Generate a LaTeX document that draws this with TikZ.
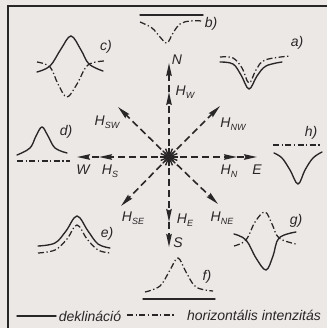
\documentclass[tikz,border=0pt]{standalone}
\usepackage{fontspec}
\setmainfont{Liberation Sans}
\usetikzlibrary{arrows.meta}
\definecolor{bg}{RGB}{236,232,230}
\definecolor{ink}{RGB}{40,38,38}
\tikzset{
 vec/.style={draw=ink, line width=1.6pt, dash pattern=on 7pt off 4pt, -{Stealth[length=13pt,width=5.5pt,inset=1.5pt]}},
 decl/.style={draw=ink, line width=1.35pt, line cap=round},
 hint/.style={draw=ink, line width=1.25pt, dash pattern=on 6pt off 2.5pt on 1.3pt off 2.5pt},
 lbl/.style={text=ink, font=\fontsize{14}{14}\selectfont\itshape, inner sep=0pt},
 curvelbl/.style={text=ink, font=\fontsize{14}{14}\selectfont\itshape, inner sep=0pt},
 leg/.style={text=ink, font=\fontsize{14}{14}\selectfont\itshape, inner sep=0pt},
}
\newcommand{\Hsub}[1]{H\kern0.3pt\raisebox{-3pt}{\fontsize{9}{9}\selectfont #1}}
\begin{document}
\begin{tikzpicture}[x=1pt,y=-1pt]
\fill[bg] (0,0) rectangle (327,328);
\useasboundingbox (0,0) rectangle (327,328);
% frame
\coordinate (f1) at (8,328); \coordinate (f2) at (8,6); \coordinate (f3) at (327,6);
\draw[ink, line width=1.5pt] (f1) -- (f2) -- (f3);
% vectors
\coordinate (O) at (169,157);
\coordinate (hw) at (169,92); \coordinate (n) at (169,63);
\coordinate (hn) at (237,157); \coordinate (e) at (257,157);
\coordinate (he) at (169,222); \coordinate (s) at (169,247);
\coordinate (hs) at (99,157); \coordinate (w) at (77,157);
\coordinate (hsw) at (118,107); \coordinate (hnw) at (220,106);
\coordinate (hne) at (218,204); \coordinate (hse) at (121,206);
\draw[vec] (O) -- (hw); \draw[vec] (hw) -- (n);
\draw[vec] (O) -- (hn); \draw[vec] (hn) -- (e);
\draw[vec] (O) -- (he); \draw[vec] (he) -- (s);
\draw[vec] (O) -- (hs); \draw[vec] (hs) -- (w);
\draw[vec] (O) -- (hsw); \draw[vec] (O) -- (hnw);
\draw[vec] (O) -- (hne); \draw[vec] (O) -- (hse);
\foreach \a in {0,22.5,...,337.5} \draw[ink,line width=1.4pt] (O) -- ++(\a:9);
\fill[ink] (O) circle (2);
% vector labels
\node[lbl] (lN) at (177,60) {N};
\node[lbl] (lHW) at (185,92) {\Hsub{W}};
\node[lbl] (lHNW) at (233,124) {\Hsub{NW}};
\node[lbl] (lHN) at (229,171) {\Hsub{N}};
\node[lbl] (lE) at (257,170) {E};
\node[lbl] (lHE) at (185,220) {\Hsub{E}};
\node[lbl] (lS) at (178,243) {S};
\node[lbl] (lHNE) at (222,218) {\Hsub{NE}};
\node[lbl] (lHSE) at (133,218) {\Hsub{SE}};
\node[lbl] (lHS) at (110,171) {\Hsub{S}};
\node[lbl] (lW) at (83,170) {W};
\node[lbl] (lHSW) at (107,122) {\Hsub{SW}};
% a)
\draw[hint] plot[smooth,tension=0.6] coordinates {(220,57) (233,58) (242,68) (249,83) (256,70) (265,60) (290,56)};
\draw[decl] plot[smooth,tension=0.6] coordinates {(220,62) (233,64) (241,75) (249,89) (257,76) (266,66) (282,62)};
\node[curvelbl] (la) at (297,43) {a)};
% b)
\draw[decl] (140,15) -- (203,15);
\draw[hint] plot[smooth,tension=0.6] coordinates {(140,22) (152,28) (160,37) (167,43) (173,33) (180,24) (190,21) (203,21)};
\node[curvelbl] (lb) at (211,24) {b)};
% c)
\draw[decl] plot[smooth,tension=0.6] coordinates {(37,72) (50,66) (61,49) (71,36) (81,50) (89,64) (103,71)};
\draw[hint] plot[smooth,tension=0.6] coordinates {(37,62) (50,67) (58,84) (67,97) (77,84) (88,65) (105,61)};
\node[curvelbl] (lc) at (106,47) {c)};
% d)
\draw[decl] plot[smooth,tension=0.6] coordinates {(17,155) (30,148) (36,136) (42,127) (48,136) (55,148) (67,153)};
\draw[hint] (17,161) -- (70,161);
\node[curvelbl] (ld) at (66,132) {d)};
% e)
\draw[decl] plot[smooth,tension=0.6] coordinates {(38,246) (55,243) (66,231) (77,216) (88,231) (98,244) (110,248)};
\draw[hint] plot[smooth,tension=0.6] coordinates {(38,253) (55,250) (67,239) (77,225) (87,239) (98,250) (110,253)};
\node[curvelbl] (le) at (107,234) {e)};
% f)
\draw[decl] (143,299) -- (215,299);
\draw[hint] plot[smooth,tension=0.6] coordinates {(145,292) (160,286) (170,270) (178,258) (186,272) (196,287) (213,291)};
\node[curvelbl] (lf) at (207,277) {f)};
% g)
\draw[decl] plot[smooth,tension=0.6] coordinates {(234,234) (246,240) (256,258) (266,270) (273,256) (279,238) (296,232)};
\draw[hint] plot[smooth,tension=0.6] coordinates {(234,246) (246,240) (255,222) (265,212) (272,224) (279,238) (296,244)};
\node[curvelbl] (lg) at (296,221) {g)};
% h)
\draw[hint] (273,145) -- (322,145);
\draw[decl] plot[smooth,tension=0.6] coordinates {(274,153) (282,158) (290,170) (298,184) (305,170) (313,158) (322,152)};
\node[curvelbl] (lh) at (311,133) {h)};
% legend
\coordinate (l1) at (17,316); \coordinate (l2) at (56,316);
\draw[decl] (l1) -- (l2);
\node[leg] (tdek) at (90,316) {deklináció};
\coordinate (l3) at (127,315); \coordinate (l4) at (176,315);
\draw[hint] (l3) -- (l4);
\node[leg] (thor) at (254,315) {horizontális intenzitás};
\end{tikzpicture}
\end{document}
